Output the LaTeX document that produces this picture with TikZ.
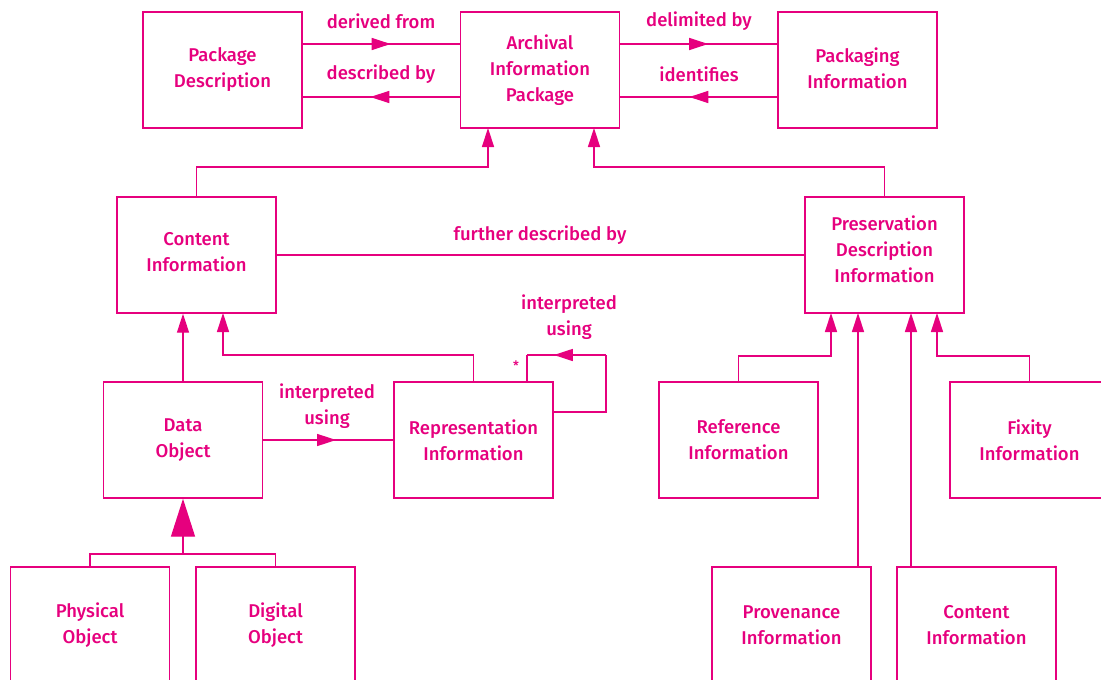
\documentclass[tikz,border=0pt]{standalone}
\usepackage{fontspec}
\setmainfont{Fira Sans Medium}
\usetikzlibrary{arrows.meta,decorations.markings}
\definecolor{mag}{HTML}{E6007E}
\tikzset{
  lin/.style={draw=mag, line width=1.4pt},
  box/.style={lin, minimum width=159pt, minimum height=116pt, inner sep=0pt, align=center, text=mag, font=\fontsize{18.5}{26}\selectfont},
  lab/.style={text=mag, align=center, inner sep=0pt, font=\fontsize{18.5}{26}\selectfont},
  tip/.style={-{Triangle[length=19pt,width=12pt]}},
  bigtip/.style={-{Triangle[length=38pt,width=24pt]}},
  midarrow/.style={postaction={decorate}, decoration={markings, mark=at position #1 with {\arrow{Triangle[length=19pt,width=12pt]}}}}
}
\begin{document}
\begin{tikzpicture}[x=1pt,y=-1pt]
\useasboundingbox (0,0) rectangle (1101,680);
\clip (0,0) rectangle (1101,680);
% boxes
\node[box] (pd)   at (222.5,70) {Package\\Description};
\node[box] (aip)  at (540,70)   {Archival\\Information\\Package};
\node[box, text depth=4pt] (pi)   at (857.5,70) {Packaging\\Information};
\node[box, text depth=6pt] (ci)   at (196.5,255) {Content\\Information};
\node[box, text depth=12pt] (pdi)  at (884.5,255) {Preservation\\Description\\Information};
\node[box] (do)   at (183,440) {Data\\Object};
\node[box] (ri)   at (473.5,440) {Representation\\Information};
\node[box] (ref)  at (738.5,440) {Reference\\Information};
\node[box] (fix)  at (1029.5,440) {Fixity\\Information};
\node[box] (phys) at (90,625) {Physical\\Object};
\node[box] (dig)  at (275.5,625) {Digital\\Object};
\node[box] (prov) at (791.5,625) {Provenance\\Information};
\node[box] (cib)  at (976.5,625) {Content\\Information};
% top relations
\draw[lin, midarrow=0.56] ([yshift=26pt]pd.east) -- ([yshift=26pt]aip.west);
\draw[lin, midarrow=0.57] ([yshift=-27pt]aip.west) -- ([yshift=-27pt]pd.east);
\draw[lin, midarrow=0.56] ([yshift=26pt]aip.east) -- ([yshift=26pt]pi.west);
\draw[lin, midarrow=0.56] ([yshift=-27pt]pi.west) -- ([yshift=-27pt]aip.east);
\node[lab] (l1) at (381,21) {derived from};
\node[lab] (l2) at (381,74) {described by};
\node[lab] (l3) at (699,21) {delimited by};
\node[lab] (l4) at (699,74) {identifies};
% to AIP
\coordinate (a1) at (488,128);
\coordinate (a2) at (594,128);
\draw[lin, tip] (ci.north) |- (488,167) -- (a1);
\draw[lin, tip] (pdi.north) |- (594,167) -- (a2);
% further described by
\draw[lin] (ci.east) -- (pdi.west);
\node[lab] (l5) at (540,235) {further described by};
% to CI
\draw[lin, tip] (do.north) -- (do.north |- ci.south);
\coordinate (c2) at (223,313);
\draw[lin, tip] (ri.north) |- (223,355) -- (c2);
% interpreted using
\draw[lin, midarrow=0.56] (do.east) -- (ri.west);
\node[lab] (l6) at (327,406) {interpreted\\using};
% self loop
\coordinate (s0) at ([yshift=28pt]ri.east);
\coordinate (s1) at (606,412);
\coordinate (s2) at (606,355);
\coordinate (s3) at (527,355);
\coordinate (s4) at (527,382);
\draw[lin] (s0) -- (s1) -- (s2);
\draw[lin, midarrow=0.66] (s2) -- (s3);
\draw[lin] (s3) -- (s4);
\node[lab] (l7) at (569,317) {interpreted\\using};
\node[lab] (star) at (516,366) {\fontsize{13}{13}\selectfont *};
% inheritance
\coordinate (g) at (183,554);
\draw[lin, bigtip] (g) -- (do.south);
\draw[lin] (phys.north) |- (g) -| (dig.north);
% to PDI
\coordinate (p1) at (831,313);
\coordinate (p2) at (858,313);
\coordinate (p3) at (911,313);
\coordinate (p4) at (937,313);
\draw[lin, tip] (ref.north) |- (831,356) -- (p1);
\draw[lin, tip] (prov.north -| p2) -- (p2);
\draw[lin, tip] (cib.north -| p3) -- (p3);
\draw[lin, tip] (fix.north) |- (937,356) -- (p4);
\end{tikzpicture}
\end{document}
